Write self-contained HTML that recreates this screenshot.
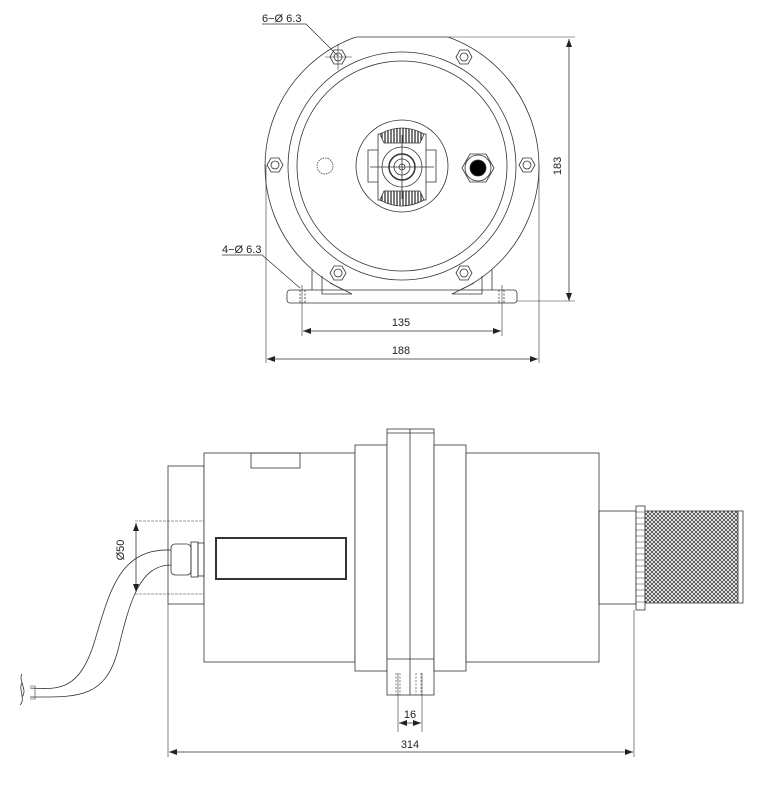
<!DOCTYPE html>
<html><head><meta charset="utf-8"><style>
html,body{margin:0;padding:0;background:#fff;}
svg{display:block;}
text{font-family:"Liberation Sans",sans-serif;font-size:11px;fill:#222;}
</style></head><body>
<svg width="768" height="801" viewBox="0 0 768 801" xmlns="http://www.w3.org/2000/svg">
<defs>
<pattern id="knurl" width="4" height="4" patternUnits="userSpaceOnUse">
<rect width="4" height="4" fill="#fff"/>
<path d="M0 0L4 4M4 0L0 4" stroke="#444" stroke-width="0.8"/>
</pattern>
<pattern id="teeth" width="3" height="3" patternUnits="userSpaceOnUse">
<rect width="3" height="3" fill="#fff"/>
<path d="M1 0V3" stroke="#222" stroke-width="1.2"/>
</pattern>
<marker id="ar" markerWidth="8" markerHeight="6" refX="8" refY="3" orient="auto-start-reverse" markerUnits="userSpaceOnUse">
<path d="M0 0L8 3L0 6z" fill="#222"/></marker>
<g id="hex"><polygon points="-8,0 -4,-7 4,-7 8,0 4,7 -4,7" fill="#fff" stroke="#333" stroke-width="0.8"/><circle r="4" fill="none" stroke="#333" stroke-width="0.8"/></g>
</defs>
<g fill="none" stroke="#333" stroke-width="0.8">
<!-- TOP VIEW -->
<clipPath id="cp"><rect x="240" y="37" width="320" height="266"/></clipPath>
<circle cx="402" cy="166" r="137" clip-path="url(#cp)"/>
<path d="M356 37 H448"/>
<circle cx="402" cy="166" r="114"/>
<circle cx="402" cy="166" r="105"/>
<!-- feet -->
<rect x="287" y="290" width="230" height="13" rx="3" fill="#fff"/>
<path d="M312 290 L312 270 M492 290 L492 270"/>
<path d="M322 276 L322 294 L352 294 L330 283 M482 276 L482 294 L452 294 L474 283"/>
<path d="M300 290 V303 M305 290 V303 M499 290 V303 M504 290 V303" stroke-dasharray="2 1.5"/>
<!-- hub -->
<circle cx="402" cy="166" r="46"/>
<rect x="378" y="134" width="48" height="66" fill="#fff"/>
<path d="M378 150 L368 150 L368 182 L378 182 M426 150 L436 150 L436 182 L426 182"/>
<path d="M380 134 Q402 122 424 134 L420 143 L384 143 Z" fill="url(#teeth)"/>
<path d="M380 200 Q402 212 424 200 L420 191 L384 191 Z" fill="url(#teeth)"/>
<circle cx="402" cy="167" r="20"/>
<circle cx="402" cy="167" r="13" stroke-width="1.5"/>
<circle cx="402" cy="167" r="8"/>
<circle cx="402" cy="167" r="3"/>
<path d="M370 167 H434 M402 135 V199"/>
<circle cx="325" cy="166" r="8" stroke-dasharray="1.5 1"/>
<polygon points="462,168 470,154 486,154 494,168 486,182 470,182" fill="#fff"/>
<circle cx="478" cy="168" r="13"/>
<circle cx="478" cy="168" r="8" fill="#000"/>
<g stroke="none"><use href="#hex" x="338" y="57"/><use href="#hex" x="464" y="57"/><use href="#hex" x="275" y="165"/><use href="#hex" x="527" y="165"/><use href="#hex" x="338" y="273"/><use href="#hex" x="464" y="273"/></g>
<path d="M325 57 H352 M338 44 V70" stroke-width="0.6"/>
<!-- dims top -->
<path d="M262 24 H306 L338 56" stroke-width="0.7"/>
<path d="M222 255 H262 L300 288" stroke-width="0.7"/>
<path d="M448 37 H575 M517 301 H575 M302 285 V336 M502 285 V336 M266 165 V363 M539 165 V363" stroke-width="0.6"/>
<path d="M569 39 V301" marker-start="url(#ar)" marker-end="url(#ar)"/>
<path d="M303 331 H501" marker-start="url(#ar)" marker-end="url(#ar)"/>
<path d="M267 359 H538" marker-start="url(#ar)" marker-end="url(#ar)"/>
<!-- BOTTOM VIEW -->
<rect x="168" y="466" width="36" height="138"/>
<rect x="204" y="453" width="151" height="209" fill="#fff"/>
<rect x="251" y="453" width="49" height="15"/>
<rect x="216" y="538" width="130" height="41" stroke-width="2"/>
<rect x="355" y="445" width="32" height="226" fill="#fff"/>
<rect x="387" y="429" width="47" height="266" fill="#fff"/>
<path d="M410 429 V695 M387 433 H434 M387 659 H434"/>
<path d="M396 673 V695 M400 673 V695 M416 673 V695 M421 673 V695" stroke-dasharray="2 1.5" stroke-width="0.6"/>
<rect x="434" y="445" width="32" height="226" fill="#fff"/>
<rect x="466" y="453" width="133" height="209" fill="#fff"/>
<rect x="599" y="511" width="37" height="93"/>
<rect x="636" y="506" width="9" height="104" fill="#fff"/>
<path d="M636 512 H645 M636 518 H645 M636 524 H645 M636 530 H645 M636 536 H645 M636 542 H645 M636 548 H645 M636 554 H645 M636 560 H645 M636 566 H645 M636 572 H645 M636 578 H645 M636 584 H645 M636 590 H645 M636 596 H645 M636 602 H645" stroke-width="0.5"/>
<rect x="645" y="511" width="93" height="92" fill="url(#knurl)"/>
<path d="M738 511 H743 V603 H738"/>
<!-- gland & cable -->
<rect x="171" y="544" width="20" height="31" rx="4" fill="#fff"/>
<rect x="191" y="542" width="7" height="35"/>
<rect x="198" y="543" width="6" height="33"/>
<path d="M171 550 C120 548 110 590 95 640 C80 690 60 690 30 688"/>
<path d="M171 565 C140 565 130 600 118 650 C105 700 75 697 30 697"/>
<path d="M22 674 C18 680 28 690 22 697 M22 683 C18 688 26 700 20 705"/>
<path d="M30 686 H35 V699 H30" stroke-width="0.6"/>
<!-- dims bottom -->
<path d="M135 521 H204 M135 594 H204" stroke-width="0.6" stroke-dasharray="3 1"/>
<path d="M136 523 V592" marker-start="url(#ar)" marker-end="url(#ar)"/>
<path d="M398 673 V732 M422 673 V732 M168 604 V757 M634 610 V757" stroke-width="0.6"/>
<path d="M399 723 H421" marker-start="url(#ar)" marker-end="url(#ar)"/>
<path d="M169 752 H633" marker-start="url(#ar)" marker-end="url(#ar)"/>
</g>
<text x="262" y="22">6−Ø 6.3</text>
<text x="222" y="253">4−Ø 6.3</text>
<text x="401" y="326" text-anchor="middle">135</text>
<text x="401" y="354" text-anchor="middle">188</text>
<text transform="translate(561,166) rotate(-90)" text-anchor="middle">183</text>
<text transform="translate(124,550) rotate(-90)" text-anchor="middle">Ø50</text>
<text x="410" y="718" text-anchor="middle">16</text>
<text x="410" y="748" text-anchor="middle">314</text>
</svg>
</body></html>
